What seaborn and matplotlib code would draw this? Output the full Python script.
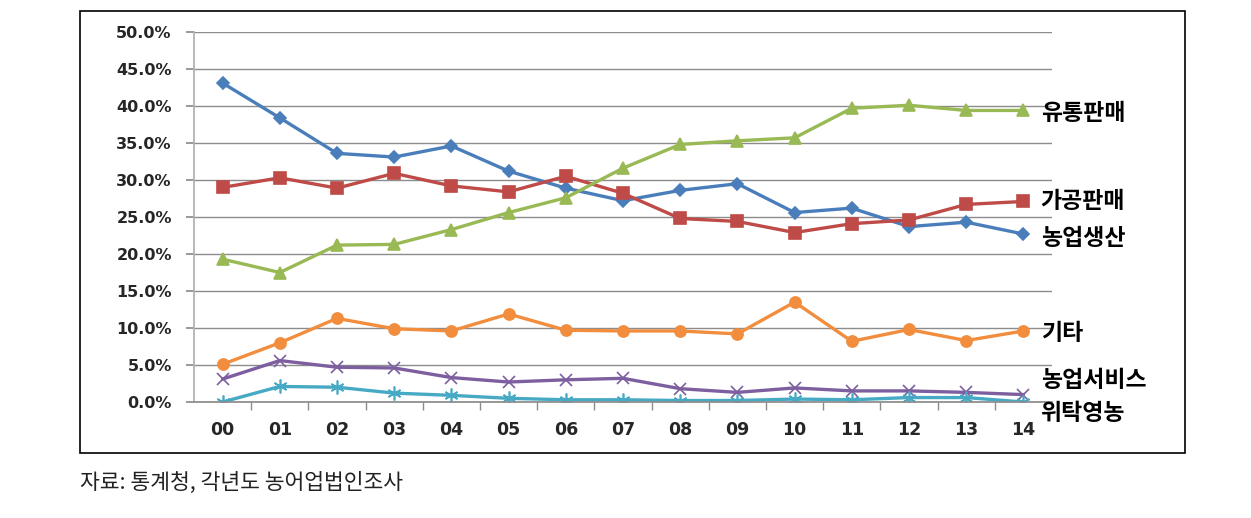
import pandas as pd
import numpy as np
from matplotlib import pyplot as plt
from matplotlib.patches import Rectangle
import seaborn as sns

# 연도 (2000~2014)
years = ['00', '01', '02', '03', '04', '05', '06', '07', '08', '09', '10', '11', '12', '13', '14']

# 업종별 비중 (%)
nong_saengsan = [43.1, 38.4, 33.6, 33.1, 34.6, 31.2, 28.9, 27.2, 28.6, 29.5, 25.6, 26.2, 23.7, 24.3, 22.7]
gagong_panmae = [29.0, 30.3, 28.9, 30.9, 29.2, 28.4, 30.5, 28.2, 24.8, 24.4, 22.9, 24.1, 24.6, 26.7, 27.1]
yutong_panmae = [19.3, 17.5, 21.2, 21.3, 23.3, 25.6, 27.6, 31.6, 34.8, 35.3, 35.7, 39.7, 40.1, 39.4, 39.4]
gita = [5.1, 8.0, 11.3, 9.9, 9.6, 11.9, 9.7, 9.6, 9.6, 9.2, 13.5, 8.2, 9.8, 8.3, 9.6]
nong_service = [3.1, 5.6, 4.7, 4.6, 3.3, 2.7, 3.0, 3.2, 1.8, 1.3, 1.9, 1.5, 1.5, 1.3, 1.0]
witak = [0.0, 2.1, 2.0, 1.2, 0.9, 0.5, 0.3, 0.3, 0.2, 0.2, 0.4, 0.3, 0.6, 0.6, 0.0]

series_names = ['농업생산', '가공판매', '유통판매', '기타', '농업서비스', '위탁영농']

df = pd.DataFrame({'year': years,
                   '농업생산': nong_saengsan, '가공판매': gagong_panmae, '유통판매': yutong_panmae,
                   '기타': gita, '농업서비스': nong_service, '위탁영농': witak})

sns.set_theme(style='white')
plt.rcParams['font.family'] = ['Noto Sans CJK KR', 'DejaVu Sans']

colors = {'농업생산': '#4A7EBB', '가공판매': '#BE4B48', '유통판매': '#98B954',
          '기타': '#F18D3C', '농업서비스': '#7D5FA0', '위탁영농': '#46AAC5'}
markers = {'농업생산': 'D', '가공판매': 's', '유통판매': '^', '기타': 'o',
           '농업서비스': 'x', '위탁영농': (6, 2, 0)}
msizes = {'농업생산': 6, '가공판매': 9, '유통판매': 8, '기타': 8, '농업서비스': 9, '위탁영농': 10}
# 라벨 위치 보정 (points)
label_dy = {'농업생산': -3, '가공판매': 0, '유통판매': -2, '기타': -2, '농업서비스': 10, '위탁영농': -8}

fig = plt.figure(figsize=(12.51, 5.18), dpi=100)
fig.patches.append(Rectangle((80/1251, 1-453/518), 1105/1251, 442/518, transform=fig.transFigure,
                             fill=False, edgecolor='black', linewidth=1.2))
ax = fig.add_axes([194/1251, 1-402/518, 858/1251, 370/518])

for name in series_names:
    sns.lineplot(x='year', y=name, data=df, ax=ax, color=colors[name], linewidth=2.4,
                 marker=markers[name], markersize=msizes[name], markeredgecolor=colors[name],
                 markeredgewidth=1.2, sort=False)
    ax.annotate(name, xy=(len(years)-1, df[name].iloc[-1]), xytext=(12.5, label_dy[name]),
                textcoords='offset points', va='center', ha='left', fontsize=16.5,
                fontweight='bold', color='black', annotation_clip=False)

ax.set_xlim(-0.5, len(years)-0.5)
ax.set_ylim(0, 50)
ax.set_yticks(np.arange(0, 50.1, 5))
ax.set_yticklabels(['%.1f%%' % v for v in np.arange(0, 50.1, 5)])
ax.set_xticks(range(len(years)))
ax.set_xticklabels(years)
ax.set_xticks(np.arange(0.5, len(years)-0.5, 1), minor=True)
ax.tick_params(axis='x', which='major', length=0, pad=14)
ax.tick_params(axis='x', which='minor', length=6, color='#8c8c8c', direction='out', bottom=True)
ax.tick_params(axis='y', length=6, color='#8c8c8c', direction='out', left=True, pad=10)
for lab in ax.get_xticklabels():
    lab.set_fontsize(12.5)
for lab in ax.get_yticklabels():
    lab.set_fontsize(11.5)
for lab in ax.get_xticklabels() + ax.get_yticklabels():
    lab.set_fontweight('bold')
    lab.set_family(['DejaVu Sans'])
ax.grid(axis='y', color='#8c8c8c', linewidth=1)
ax.set_axisbelow(True)
for s in ['top', 'right']:
    ax.spines[s].set_visible(False)
ax.spines['left'].set_color('#b0b0b0')
ax.spines['bottom'].set_color('#8c8c8c')
ax.set_xlabel('')
ax.set_ylabel('')

# 출처
fig.text(80/1251, 1-483/518, '자료: 통계청, 각년도 농어업법인조사', fontsize=15.5, color='#222222',
         va='center', ha='left')

plt.savefig('out.png', dpi=100)
